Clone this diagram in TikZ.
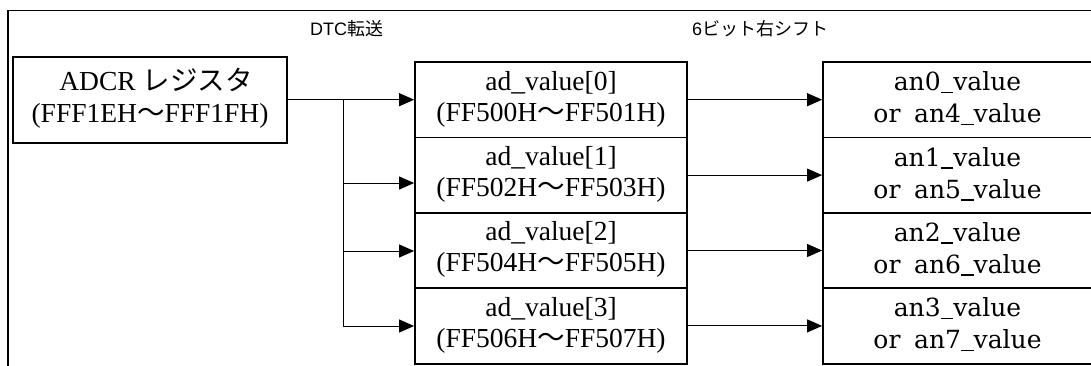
\documentclass[tikz,border=0pt]{standalone}
\usepackage{fontspec}
\setmainfont{Liberation Serif}
\setsansfont{Liberation Sans}
\newfontfamily\cjk{Noto Sans CJK JP}
\newfontfamily\dvs{DejaVu Serif}
\usetikzlibrary{arrows.meta}
\newcommand\myus{\rule[-0.1em]{0.5em}{0.06em}}
\begin{document}
\begin{tikzpicture}[x=1pt,y=-1pt,
  frame/.style={line width=1.8pt},
  regbox/.style={draw, line width=1.8pt, minimum width=274pt, minimum height=86pt, inner sep=0pt},
  adbox/.style={draw, line width=1.8pt, minimum width=272pt, minimum height=75.4pt, inner sep=0pt},
  anbox/.style={draw, line width=1.8pt, minimum width=270pt, minimum height=75.4pt, inner sep=0pt},
  sertext/.style={inner sep=0pt, anchor=base, font=\fontsize{27.5}{31}\selectfont},
  antext/.style={inner sep=0pt, anchor=base, font=\dvs\fontsize{25}{30}\selectfont},
  toplabel/.style={inner sep=0pt, anchor=base, font=\sffamily\fontsize{18}{20}\selectfont},
  conn/.style={line width=1pt},
  arr/.style={conn, -{Triangle[length=15pt,width=13pt]}}]
\useasboundingbox (0,0) rectangle (1091,365);
% outer frame (open to right and bottom)
\draw[frame] (1100,10.5) -- (8,10.5) -- (8,372);
% top labels
\node[toplabel] (lblA) at (346.5,35) {DTC{\cjk 転送}};
\node[toplabel] (lblB) at (760,35) {6{\cjk ビット右シフト}};
% source register
\node[regbox] (adcr) at (150,100) {};
\node[sertext] (adcrA) at (156,90) {ADCR {\cjk レジスタ}};
\node[sertext] (adcrB) at (150,122) {(FFF1EH{\cjk ～}FFF1FH)};
% ad_value boxes and an boxes
\foreach \i/\a/\b/\c/\d in {0/00/01/0/4, 1/02/03/1/5, 2/04/05/2/6, 3/06/07/3/7}{
  \node[adbox] (ad\i) at (551, 99.7+75.4*\i) {};
  \node[sertext] (ad\i a) at ([yshift=-29pt]ad\i.north) {ad\_value[\i]};
  \node[sertext] (ad\i b) at ([yshift=-60pt]ad\i.north) {(FF5\a H{\cjk ～}FF5\b H)};
  \node[anbox] (an\i) at (958, 99.7+75.4*\i) {};
  \node[antext] (an\i a) at ([xshift=-0.5pt,yshift=-29.5pt]an\i.north) {an\c\myus value};
  \node[antext] (an\i b) at ([xshift=-0.5pt,yshift=-61.5pt]an\i.north) {or\hspace{0.55em}an\d\myus value};
  \draw[arr] (ad\i.east) -- (an\i.west);
}
% DTC transfer connectors
\coordinate (br0) at (343,99.5);
\coordinate (br1) at (343,183);
\coordinate (br2) at (343,251);
\coordinate (br3) at (343,326);
\draw[arr] (adcr.east |- ad0.west) -- (ad0.west);
\draw[conn] (br0) -- (br3);
\draw[arr] (br1) -- (br1 -| ad1.west);
\draw[arr] (br2) -- (br2 -| ad2.west);
\draw[arr] (br3) -- (br3 -| ad3.west);
\end{tikzpicture}
\end{document}
